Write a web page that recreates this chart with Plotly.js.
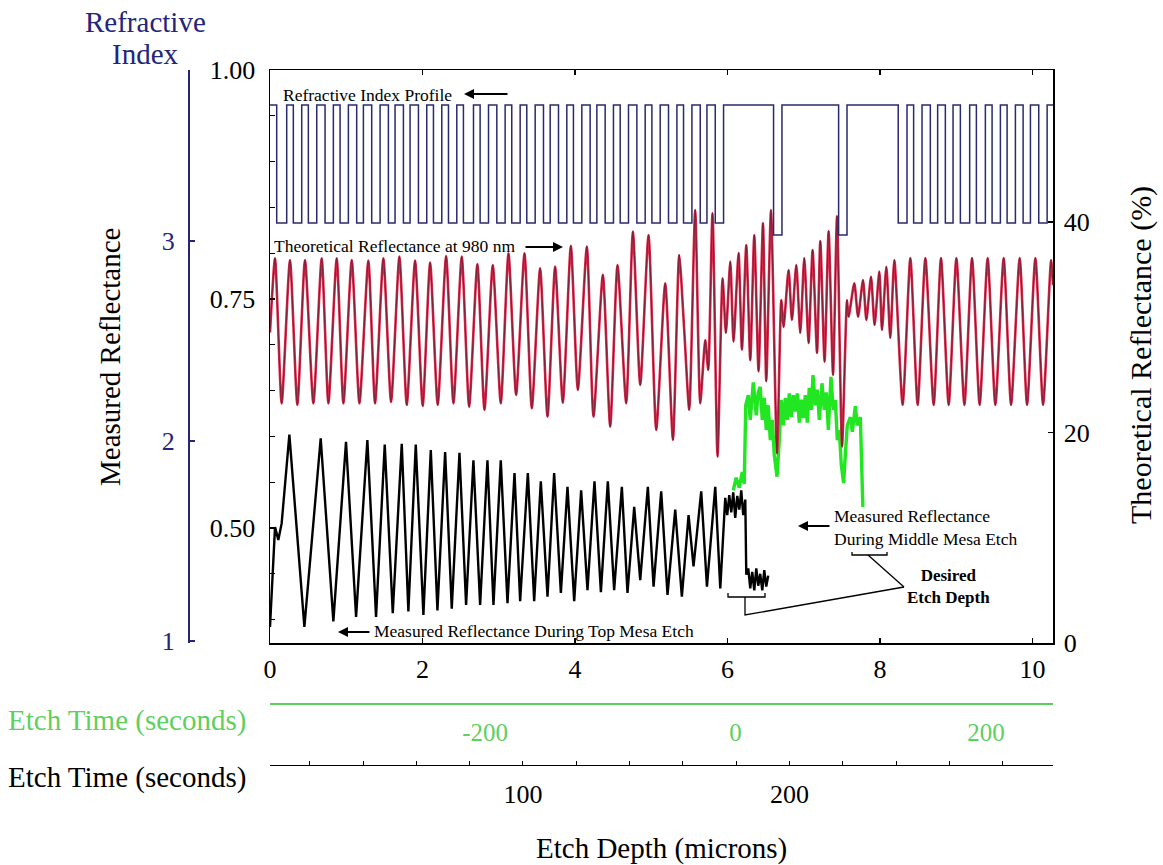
<!DOCTYPE html>
<html>
<head>
<meta charset="utf-8">
<script src="https://cdn.plot.ly/plotly-3.0.1.min.js"></script>
<style>html,body{margin:0;padding:0;background:#fff;}#chart{width:1163px;height:865px;}</style>
</head>
<body>
<div id="chart"></div>
<script>
// ---------------- DATA ----------------
// Etch depth axis (microns)
const depthTicks = [0, 2, 4, 6, 8, 10];

// Measured reflectance axis ticks (left)
const measTickVals = [0.40, 0.45, 0.50, 0.55, 0.60, 0.65, 0.70, 0.75, 0.80, 0.85, 0.90, 0.95, 1.00];
const measTickText = ['', '', '0.50', '', '', '', '', '0.75', '', '', '', '', '1.00'];

// Theoretical reflectance axis ticks (right, %)
const theoTickVals = [0, 20, 40];

// Refractive index axis ticks
const indexTickVals = [1, 2, 3];

// Etch time axes
const greenTimeTicks = [-200, 0, 200];
const greenTimeText = ['-200', '0', '200'];
const blackTimeTicks = [20, 40, 60, 80, 100, 120, 140, 160, 180, 200, 220, 240, 260, 280];
const blackTimeText = ['', '', '', '', '100', '', '', '', '', '200', '', '', '', ''];

// Refractive index profile (step edges, microns) and index level after each edge
const profileDepth = [0, 0.088, 0.219, 0.306, 0.416, 0.503, 0.613, 0.722, 0.831, 0.919,
  1.028, 1.137, 1.225, 1.334, 1.444, 1.553, 1.640, 1.750, 1.837, 1.947,
  2.056, 2.144, 2.253, 2.341, 2.450, 2.537, 2.669, 2.756, 2.866, 2.975,
  3.084, 3.171, 3.281, 3.368, 3.478, 3.587, 3.675, 3.784, 3.893, 3.980,
  4.090, 4.199, 4.287, 4.396, 4.505, 4.593, 4.702, 4.812, 4.921, 5.009,
  5.118, 5.227, 5.337, 5.424, 5.534, 5.643, 5.731, 5.840, 5.949,
  6.605, 6.715, 7.458, 7.568,
  8.240, 8.355, 8.442, 8.552, 8.661, 8.757, 8.858, 8.959, 9.055, 9.177,
  9.265, 9.383, 9.471, 9.580, 9.668, 9.777, 9.878, 9.974, 10.083, 10.193, 10.27];
const profileIndex = [3.68, 3.09, 3.68, 3.09, 3.68, 3.09, 3.68, 3.09, 3.68, 3.09,
  3.68, 3.09, 3.68, 3.09, 3.68, 3.09, 3.68, 3.09, 3.68, 3.09,
  3.68, 3.09, 3.68, 3.09, 3.68, 3.09, 3.68, 3.09, 3.68, 3.09,
  3.68, 3.09, 3.68, 3.09, 3.68, 3.09, 3.68, 3.09, 3.68, 3.09,
  3.68, 3.09, 3.68, 3.09, 3.68, 3.09, 3.68, 3.09, 3.68, 3.09,
  3.68, 3.09, 3.68, 3.09, 3.68, 3.09, 3.68, 3.09, 3.68,
  3.03, 3.68, 3.03, 3.68,
  3.09, 3.68, 3.09, 3.68, 3.09, 3.68, 3.09, 3.68, 3.09, 3.68,
  3.09, 3.68, 3.09, 3.68, 3.09, 3.68, 3.09, 3.68, 3.09, 3.68, 3.68];

// Theoretical reflectance at 980 nm (%), peaks and troughs
const theoDepth = [0.000, 0.066, 0.153, 0.262, 0.359, 0.459, 0.569, 0.678, 0.766, 0.875,
  0.963, 1.072, 1.173, 1.290, 1.378, 1.487, 1.588, 1.697, 1.794, 1.903,
  2.003, 2.100, 2.200, 2.310, 2.406, 2.515, 2.612, 2.720, 2.813, 2.922,
  3.027, 3.128, 3.228, 3.338, 3.434, 3.543, 3.640, 3.740, 3.841, 3.946,
  4.038, 4.156, 4.243, 4.366, 4.462, 4.558, 4.672, 4.760, 4.856, 4.965,
  5.066, 5.184, 5.285, 5.367, 5.433, 5.499, 5.577, 5.643, 5.709, 5.748,
  5.804, 5.870, 5.936, 5.980, 6.037, 6.080, 6.146, 6.190, 6.247, 6.299,
  6.352, 6.408, 6.466, 6.509, 6.571, 6.650, 6.706, 6.736, 6.802, 6.846,
  6.903, 6.955, 7.008, 7.064, 7.117, 7.175, 7.218, 7.274, 7.327, 7.385,
  7.437, 7.503, 7.568, 7.589, 7.664, 7.713, 7.778, 7.822, 7.883, 7.930,
  7.992, 8.027, 8.084, 8.136, 8.189, 8.298, 8.399, 8.495, 8.596, 8.705,
  8.801, 8.902, 9.003, 9.108, 9.208, 9.308, 9.413, 9.514, 9.623, 9.720,
  9.833, 9.930, 10.039, 10.140, 10.245, 10.270];
const theoPct = [29.5, 36.55, 22.77, 36.39, 22.61, 36.39, 22.77, 36.55, 22.77, 36.55,
  22.77, 36.39, 22.77, 36.33, 22.77, 36.55, 22.90, 36.71, 22.61, 36.33,
  22.52, 36.14, 22.61, 36.77, 22.77, 36.71, 22.45, 36.01, 22.14, 35.92,
  22.77, 37.03, 23.56, 37.03, 22.30, 35.61, 21.50, 35.76, 22.83, 37.73,
  24.04, 37.67, 21.50, 34.98, 20.55, 35.92, 22.77, 39.08, 24.51, 38.76,
  20.24, 34.18, 19.29, 36.87, 29.74, 22.14, 41.14, 22.77, 28.79, 25.94,
  40.85, 17.70, 34.65, 29.45, 36.23, 28.63, 37.05, 27.87, 37.81, 26.86,
  38.76, 25.81, 39.90, 24.87, 41.14, 18.02, 32.58, 30.02, 35.44, 30.69,
  35.91, 29.45, 36.58, 28.50, 37.34, 27.55, 38.20, 26.73, 39.15, 25.46,
  40.57, 18.66, 32.58, 31.00, 34.18, 31.00, 34.49, 30.69, 34.80, 30.21,
  35.28, 29.74, 35.75, 28.98, 36.39, 22.61, 36.58, 22.61, 36.58, 22.61,
  36.58, 22.61, 36.58, 22.61, 36.58, 22.61, 36.58, 22.61, 36.58, 22.61,
  36.58, 22.61, 36.58, 22.61, 36.39, 34.0];

// Measured reflectance during top mesa etch
const topDepth = [0.000, 0.044, 0.066, 0.109, 0.153, 0.254, 0.451, 0.665, 0.831, 0.997,
  1.129, 1.277, 1.391, 1.505, 1.610, 1.728, 1.815, 1.912, 2.012, 2.109,
  2.196, 2.297, 2.384, 2.485, 2.572, 2.668, 2.756, 2.852, 2.931, 3.027,
  3.115, 3.207, 3.281, 3.382, 3.465, 3.552, 3.640, 3.727, 3.815, 3.902,
  3.990, 4.081, 4.164, 4.256, 4.340, 4.431, 4.514, 4.615, 4.689, 4.777,
  4.856, 4.956, 5.031, 5.131, 5.214, 5.315, 5.402, 5.490, 5.555, 5.656,
  5.731, 5.840, 5.906, 5.971, 5.997, 6.024, 6.050, 6.076, 6.102, 6.129,
  6.155, 6.181, 6.207, 6.234, 6.247, 6.273, 6.299, 6.325, 6.352, 6.378,
  6.404, 6.430, 6.457, 6.483, 6.509, 6.535];
const topRefl = [0.392, 0.465, 0.501, 0.487, 0.505, 0.602, 0.392, 0.598, 0.398, 0.594,
  0.403, 0.596, 0.403, 0.591, 0.407, 0.592, 0.409, 0.591, 0.405, 0.585,
  0.410, 0.583, 0.412, 0.582, 0.416, 0.574, 0.416, 0.574, 0.416, 0.574,
  0.418, 0.560, 0.420, 0.560, 0.420, 0.551, 0.425, 0.560, 0.429, 0.545,
  0.420, 0.541, 0.432, 0.551, 0.430, 0.551, 0.432, 0.545, 0.429, 0.523,
  0.443, 0.545, 0.436, 0.540, 0.427, 0.520, 0.425, 0.514, 0.458, 0.540,
  0.436, 0.545, 0.434, 0.533, 0.514, 0.536, 0.517, 0.539, 0.511, 0.535,
  0.520, 0.541, 0.514, 0.531, 0.449, 0.456, 0.434, 0.452, 0.432, 0.456,
  0.437, 0.450, 0.432, 0.454, 0.436, 0.448];

// Measured reflectance during middle mesa etch
const midDepth = [6.076, 6.115, 6.155, 6.194, 6.220, 6.240, 6.273, 6.299, 6.339, 6.378,
  6.404, 6.430, 6.457, 6.483, 6.509, 6.535, 6.562, 6.588, 6.614, 6.650,
  6.680, 6.706, 6.732, 6.759, 6.785, 6.811, 6.837, 6.864, 6.890, 6.916,
  6.942, 6.969, 6.995, 7.021, 7.047, 7.073, 7.100, 7.122, 7.152, 7.178,
  7.205, 7.240, 7.270, 7.297, 7.323, 7.358, 7.388, 7.415, 7.441, 7.467,
  7.493, 7.524, 7.546, 7.572, 7.612, 7.638, 7.677, 7.703, 7.743, 7.765, 7.776];
const midRefl = [0.541, 0.555, 0.544, 0.561, 0.548, 0.634, 0.645, 0.618, 0.659, 0.623,
  0.648, 0.654, 0.618, 0.642, 0.607, 0.634, 0.596, 0.618, 0.580, 0.556,
  0.596, 0.640, 0.612, 0.642, 0.618, 0.647, 0.621, 0.645, 0.627, 0.647,
  0.615, 0.640, 0.620, 0.645, 0.615, 0.653, 0.629, 0.667, 0.634, 0.651,
  0.618, 0.658, 0.629, 0.648, 0.607, 0.665, 0.629, 0.640, 0.596, 0.607,
  0.569, 0.549, 0.580, 0.612, 0.621, 0.605, 0.633, 0.612, 0.621, 0.527, 0.523];

// ---------------- LAYOUT HELPERS ----------------
const W = 1163, H = 865;
const PL = 270, PR = 1053, PT = 70, PB = 643;
const X = p => p / W;
const Y = p => 1 - p / H;
const serif = 'Liberation Serif, Times New Roman, serif';
const navy = '#24247a';
const greenTxt = '#5fcf5f';

const traces = [
  {x: profileDepth, y: profileIndex, xaxis: 'x', yaxis: 'y3', mode: 'lines',
   line: {shape: 'hv', color: '#2a2a6e', width: 1.5}, hoverinfo: 'skip'},
  {x: theoDepth, y: theoPct, xaxis: 'x', yaxis: 'y2', mode: 'lines',
   line: {color: '#d82a4c', width: 2.6, shape: 'spline', smoothing: 0.6}, hoverinfo: 'skip'},
  {x: theoDepth, y: theoPct, xaxis: 'x', yaxis: 'y2', mode: 'lines',
   line: {color: '#6a1c30', width: 0.8, shape: 'spline', smoothing: 0.6}, hoverinfo: 'skip'},
  {x: topDepth, y: topRefl, xaxis: 'x', yaxis: 'y', mode: 'lines',
   line: {color: '#000000', width: 2.4}, hoverinfo: 'skip'},
  {x: midDepth, y: midRefl, xaxis: 'x', yaxis: 'y', mode: 'lines',
   line: {color: '#22e622', width: 3.4}, hoverinfo: 'skip'},
  // anchors for the two etch-time axes
  {x: greenTimeTicks, y: [null, null, null], xaxis: 'x2', yaxis: 'y', mode: 'markers',
   marker: {opacity: 0}, hoverinfo: 'skip'},
  {x: [100, 200], y: [null, null], xaxis: 'x3', yaxis: 'y', mode: 'markers',
   marker: {opacity: 0}, hoverinfo: 'skip'}
];

const tickFont = {family: serif, size: 26, color: '#000'};

function label(text, px, py, size, color, extra) {
  return Object.assign({text: text, x: X(px), y: Y(py), xref: 'paper', yref: 'paper',
    xanchor: 'center', yanchor: 'middle', showarrow: false,
    font: {family: serif, size: size, color: color}}, extra || {});
}
function arrow(headX, headY, dx) {
  return {text: '', x: X(headX), y: Y(headY), xref: 'paper', yref: 'paper', showarrow: true,
    ax: dx, ay: 0, arrowhead: 2, arrowsize: 1, arrowwidth: 2, arrowcolor: '#000'};
}

const layout = {
  width: W, height: H,
  margin: {l: 0, r: 0, t: 0, b: 0},
  paper_bgcolor: '#fff', plot_bgcolor: '#fff',
  showlegend: false,
  font: {family: serif, color: '#000'},
  xaxis: {
    domain: [X(PL), X(PR)], range: [0, 10.27], anchor: 'y',
    tickvals: depthTicks, ticks: 'inside', ticklen: 5, tickwidth: 1.3, tickcolor: '#000',
    showline: true, linecolor: '#000', linewidth: 1.5, mirror: 'ticks',
    showgrid: false, zeroline: false, tickfont: tickFont, ticklabelstandoff: 2
  },
  yaxis: {
    domain: [Y(PB), Y(PT)], range: [0.37445, 1.0], anchor: 'x',
    tickvals: measTickVals, ticktext: measTickText,
    ticks: 'inside', ticklen: 5, tickwidth: 1.3, tickcolor: '#000',
    showline: true, linecolor: '#000', linewidth: 1.5,
    showgrid: false, zeroline: false, tickfont: tickFont, ticklabelstandoff: 8
  },
  yaxis2: {
    overlaying: 'y', side: 'right', anchor: 'x', range: [0, 54.44],
    tickvals: theoTickVals, ticks: 'inside', ticklen: 5, tickwidth: 1.3, tickcolor: '#000',
    showline: true, linecolor: '#000', linewidth: 1.5,
    showgrid: false, zeroline: false, tickfont: tickFont, ticklabelstandoff: 4
  },
  yaxis3: {
    overlaying: 'y', side: 'left', anchor: 'free', position: X(188), range: [0.99, 3.855],
    tickvals: indexTickVals, ticks: 'inside', ticklen: 5, tickwidth: 1.3, tickcolor: navy,
    showline: true, linecolor: navy, linewidth: 1.5,
    showgrid: false, zeroline: false,
    tickfont: {family: serif, size: 26, color: navy}, ticklabelstandoff: 8
  },
  xaxis2: {
    overlaying: 'x', anchor: 'free', position: Y(703), side: 'bottom', range: [-371.7, 253.5],
    tickvals: greenTimeTicks, ticktext: greenTimeText, ticks: '',
    showline: true, linecolor: '#5ccf5c', linewidth: 1.5,
    showgrid: false, zeroline: false,
    tickfont: {family: serif, size: 25, color: greenTxt}, ticklabelstandoff: 6
  },
  xaxis3: {
    overlaying: 'x', anchor: 'free', position: Y(765), side: 'bottom', range: [5.07, 298.9],
    tickvals: blackTimeTicks, ticktext: blackTimeText, ticks: 'inside', ticklen: 4,
    tickwidth: 1, tickcolor: '#000',
    showline: true, linecolor: '#000', linewidth: 1.3,
    showgrid: false, zeroline: false, tickfont: tickFont, ticklabelstandoff: 5
  },
  annotations: [
    // axis titles
    label('Refractive', 145, 22, 29, navy),
    label('Index', 145, 54, 29, navy),
    label('Measured Reflectance', 110, 357, 29, '#000', {textangle: -90}),
    label('Theoretical Reflectance (%)', 1141, 355, 30, '#000', {textangle: -90}),
    label('Etch Time (seconds)', 248, 720, 29, greenTxt, {xanchor: 'right'}),
    label('Etch Time (seconds)', 248, 777, 29, '#000', {xanchor: 'right'}),
    label('Etch Depth (microns)', 661, 848, 29, '#000'),
    // in-plot labels
    label('Refractive Index Profile', 281, 95, 17.5, '#000', {xanchor: 'left'}),
    arrow(464, 94, 45),
    label('Theoretical Reflectance at 980 nm', 272, 246, 17.5, '#000', {xanchor: 'left'}),
    arrow(563, 247, -39),
    label('Measured Reflectance During Top Mesa Etch', 372, 631, 17.5, '#000', {xanchor: 'left'}),
    arrow(338, 632, 33),
    label('Measured Reflectance<br>During Middle Mesa Etch', 832, 527, 17.5, '#000', {xanchor: 'left', align: 'left'}),
    arrow(798, 526, 33),
    label('<b>Desired<br>Etch Depth</b>', 948, 586, 17, '#000')
  ],
  shapes: [
    // bracket under the black trace
    {type: 'path', xref: 'paper', yref: 'paper',
     path: `M ${X(728)} ${Y(593)} L ${X(728)} ${Y(597)} L ${X(765)} ${Y(597)} L ${X(765)} ${Y(593)}`,
     line: {color: '#000', width: 1.3}},
    {type: 'path', xref: 'paper', yref: 'paper',
     path: `M ${X(745)} ${Y(597)} L ${X(745)} ${Y(615)} L ${X(904)} ${Y(587)}`,
     line: {color: '#000', width: 1.3}},
    // bracket under the green trace
    {type: 'path', xref: 'paper', yref: 'paper',
     path: `M ${X(852)} ${Y(552)} L ${X(852)} ${Y(555)} L ${X(887)} ${Y(555)} L ${X(887)} ${Y(552)}`,
     line: {color: '#000', width: 1.3}},
    {type: 'path', xref: 'paper', yref: 'paper',
     path: `M ${X(868)} ${Y(555)} L ${X(904)} ${Y(587)}`,
     line: {color: '#000', width: 1.3}}
  ]
};

Plotly.newPlot('chart', traces, layout, {displayModeBar: false, staticPlot: true});
</script>
</body>
</html>
